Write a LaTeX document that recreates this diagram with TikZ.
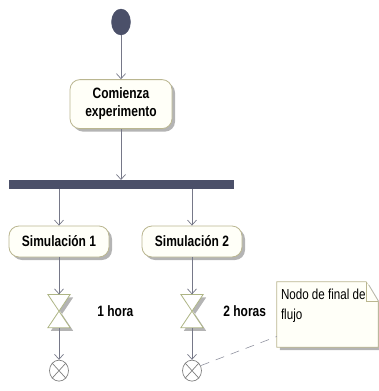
\documentclass[tikz,border=0pt]{standalone}
\usepackage{fontspec}
\newfontfamily\diagfont[FakeStretch=0.8]{Liberation Sans}
\usetikzlibrary{shapes.geometric,arrows.meta,positioning,shadows}
\definecolor{umlslate}{HTML}{4B5069}
\definecolor{umlborde}{HTML}{BAB690}
\definecolor{umlfondo}{HTML}{FFFFF8}
\definecolor{umlflecha}{HTML}{767888}
\definecolor{umlreloj}{HTML}{AEB585}
\definecolor{umlsombra}{HTML}{B4B4B4}
\newcommand{\diagbold}{\diagfont\fontsize{15}{18}\selectfont\bfseries}

\begin{document}
\begin{tikzpicture}[
  x=1pt, y=1pt,
  font=\diagfont\fontsize{15}{18}\selectfont,
  >={Straight Barb[length=5pt,width=9pt]},
  sombra/.style={drop shadow={shadow xshift=3pt, shadow yshift=-3pt,
                 fill=umlsombra, opacity=1}},
  inicial/.style={ellipse, fill=umlslate, draw=umlslate, inner sep=0pt,
                  minimum width=19pt, minimum height=26pt},
  accion/.style={rectangle, draw=umlborde, fill=umlfondo, rounded corners=10pt,
                 line width=0.8pt, align=center, font=\diagbold, sombra},
  barra/.style={rectangle, fill=umlslate, inner sep=0pt,
                minimum width=225pt, minimum height=9pt},
  reloj/.style={rectangle, inner sep=0pt, minimum width=22pt, minimum height=33pt},
  relojlinea/.style={draw=umlreloj, fill=white, line width=0.8pt, sombra},
  final/.style={ellipse, draw=gray, fill=white, line width=0.7pt, inner sep=0pt,
                minimum width=19pt, minimum height=21pt},
  etiqueta/.style={font=\diagbold, inner sep=0pt},
  nota/.style={rectangle, inner sep=0pt, minimum width=101pt, minimum height=65pt},
  notaborde/.style={draw=umlborde, fill=umlfondo, line width=0.7pt},
  notatexto/.style={font=\diagfont\fontsize{14.5}{20}\selectfont, align=left,
                    inner sep=0pt},
  flow/.style={->, draw=umlflecha, line width=0.7pt}
]
\useasboundingbox (0,0) rectangle (379,-391);

% ---------- Inicio ----------
\node[inicial] (inicio) at (121,-22) {};
\node[accion, minimum width=102pt, minimum height=49pt, below=44pt of inicio]
  (comienza) {Comienza\\experimento};
\node[barra, below=51pt of comienza] (fork) {};
\draw[flow] (inicio) -- (comienza);
\draw[flow] (comienza) -- (fork);

% ---------- Simulaciones ----------
\node[accion, minimum width=100pt, minimum height=31pt] (sim1) at (59,-241.5)
  {Simulación 1};
\node[accion, minimum width=100pt, minimum height=31pt] (sim2) at (192,-241.5)
  {Simulación 2};
\draw[flow] (sim1 |- fork.south) -- (sim1);
\draw[flow] (sim2 |- fork.south) -- (sim2);

% ---------- Eventos de tiempo ----------
\node[reloj, below=37pt of sim1] (reloj1) {};
\node[reloj, below=37pt of sim2] (reloj2) {};
\foreach \t in {reloj1,reloj2}
  \draw[relojlinea] (\t.north west) -- (\t.north east) -- (\t.south west)
    -- (\t.south east) -- cycle;
\node[etiqueta, right=27pt of reloj1] (hora1) {1 hora};
\node[etiqueta, right=20pt of reloj2] (hora2) {2 horas};
\draw[flow] (sim1) -- (reloj1);
\draw[flow] (sim2) -- (reloj2);

% ---------- Nodos de final de flujo ----------
\node[final, below=32pt of reloj1] (fin1) {};
\node[final, below=32pt of reloj2] (fin2) {};
\foreach \f in {fin1,fin2}
  \draw[draw=gray, line width=0.7pt] (\f.north west) -- (\f.south east)
    (\f.north east) -- (\f.south west);
\draw[flow] (reloj1) -- (fin1);
\draw[flow] (reloj2) -- (fin2);

% ---------- Nota ----------
\node[nota] (nota) at (327.5,-314.5) {};
\draw[notaborde, sombra] (nota.north west) -- ([xshift=-12pt]nota.north east)
  -- ([yshift=-20pt]nota.north east) -- (nota.south east)
  -- (nota.south west) -- cycle;
\draw[notaborde] ([xshift=-12pt]nota.north east) |- ([yshift=-20pt]nota.north east);
\node[notatexto, anchor=base west] (notatxt) at ([shift={(4pt,-38pt)}]nota.north west)
  {Nodo de final de\\flujo};
\draw[umlflecha!80, dashed, dash pattern=on 9pt off 7pt, line width=0.6pt]
  (fin2.30) -- ([yshift=-22pt]nota.west);

\end{tikzpicture}
\end{document}
